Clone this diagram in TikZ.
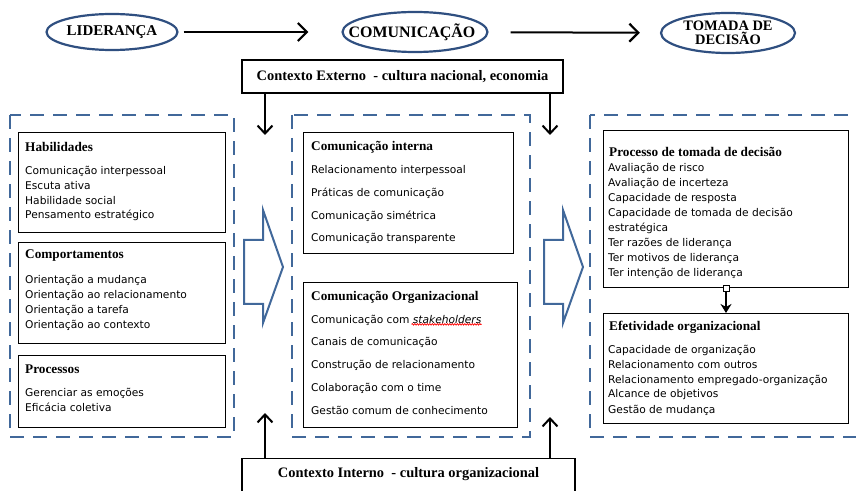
\documentclass[tikz,border=0pt]{standalone}
\usepackage{fontspec}
\setmainfont{Liberation Serif}
\newfontfamily\listfont{DejaVu Sans}
\usetikzlibrary{shapes.geometric, arrows.meta, decorations.pathmorphing}
\definecolor{ovalblue}{HTML}{2F4F80}
\definecolor{dashblue}{HTML}{41689A}
\tikzset{
  oval/.style={ellipse, draw=ovalblue, line width=2.2bp, minimum width=131bp, minimum height=36bp, inner sep=0},
  ovaltext/.style={font=\fontsize{15}{14}\selectfont\bfseries, align=center, inner sep=0},
  flow/.style={line width=1.8bp, -{Straight Barb[length=8bp, width=15bp, line width=2bp]}},
  contextbox/.style={draw=black, line width=1.2bp, inner xsep=6bp, font=\fontsize{14.5}{16}\selectfont\bfseries},
  group/.style={draw=dashblue, line width=2.8bp, dash pattern=on 14bp off 9bp},
  infobox/.style={draw=black, line width=1bp, anchor=north west, inner sep=0},
  heading/.style={anchor=west, inner sep=0, font=\fontsize{13.3}{15}\selectfont\bfseries},
  item/.style={anchor=west, inner sep=0, font=\listfont\fontsize{10.7}{12}\selectfont},
  bigarrow/.style={draw=dashblue, line width=2bp, fill=white, line join=miter}
}
\begin{document}
\begin{tikzpicture}[x=1bp, y=-1bp, line cap=butt]
  \useasboundingbox (0,0) rectangle (856,491);
  % Top row
  \node [oval] (oval-1) at (112,32) {};
  \node [oval, minimum width=145bp, minimum height=40bp] (oval-2) at (415,32) {};
  \node [oval, minimum width=134bp, minimum height=40bp] (oval-3) at (728,33) {};
  \node [ovaltext] (title-1) at (oval-1) {LIDERANÇA};
  \node [ovaltext, font=\fontsize{16}{14}\selectfont\bfseries] (title-2) at ([xshift=-3bp]oval-2.center) {COMUNICAÇÃO};
  \node [ovaltext, font=\fontsize{14.5}{14}\selectfont\bfseries] (title-3) at (oval-3) {TOMADA DE\\DECISÃO};
  \draw [flow, line width=2bp, -{Straight Barb[length=9bp, width=18bp, line width=2.2bp]}, shorten <=5bp, shorten >=33bp] (oval-1) -- (oval-2);
  \draw [flow, line width=2bp, -{Straight Barb[length=9bp, width=18bp, line width=2.2bp]}, shorten <=22bp, shorten >=20bp] (oval-2) -- (oval-3);
  % Context boxes
  \node [contextbox, minimum width=321bp, minimum height=33bp] (ctx-ext) at (402.5,76.5) {Contexto Externo \ - cultura nacional, economia};
  \node [contextbox, anchor=north, minimum width=333bp, text height=14bp, text depth=20bp, inner ysep=5bp] (ctx-int) at (408.5,458) {Contexto Interno \ - cultura organizacional};
  \coordinate (ext-1) at (265,135);
  \coordinate (ext-2) at (550,135);
  \coordinate (int-1) at (265,413);
  \coordinate (int-2) at (550,417);
  \foreach \a in {1, 2} {
    \draw [flow] (ctx-ext.south -| ext-\a) -- (ext-\a);
    \draw [flow] (ctx-int.north -| int-\a) -- (int-\a);
  }
  % Dashed groups
  \draw [group] (10,115) rectangle (234,437);
  \draw [group] (292,115) rectangle (530,437);
  \draw [group] (590,115) rectangle (880,437);
  % Block arrows
  \foreach \dx in {0, 300}
    \draw [bigarrow, xshift=\dx bp] (244,240) -- (263,240) -- (263,210) -- (283,267) -- (263,323) -- (263,304) -- (244,304) -- cycle;
  % First group
  \node [infobox, minimum width=207bp, minimum height=100bp] (box-1-1) at (18,132) {};
  \node [infobox, minimum width=207bp, minimum height=101bp] (box-1-2) at (18,242) {};
  \node [infobox, minimum width=207bp, minimum height=72bp] (box-1-3) at (18,355) {};
  \node [heading] (head-1-1) at (25,147) {Habilidades};
  \node [heading] (head-1-2) at (25,256) {Comportamentos};
  \node [heading] (head-1-3) at (25,369) {Processos};
  \foreach \t [count=\i] in {Comunicação interpessoal, Escuta ativa, Habilidade social, Pensamento estratégico}
    \node [item] (item-1-1-\i) at (25,{171+14.7*(\i-1)}) {\t};
  \foreach \t [count=\i] in {Orientação a mudança, Orientação ao relacionamento, Orientação a tarefa, Orientação ao contexto}
    \node [item] (item-1-2-\i) at (25,{280+15*(\i-1)}) {\t};
  \foreach \t [count=\i] in {Gerenciar as emoções, Eficácia coletiva}
    \node [item] (item-1-3-\i) at (25,{393+14.7*(\i-1)}) {\t};
  % Second group
  \node [infobox, minimum width=210bp, minimum height=121bp] (box-2-1) at (303,132) {};
  \node [infobox, minimum width=214bp, minimum height=145bp] (box-2-2) at (303,282) {};
  \node [heading] (head-2-1) at (311,147) {Comunicação interna};
  \node [heading] (head-2-2) at (311,297) {Comunicação Organizacional};
  \foreach \t [count=\i] in {Relacionamento interpessoal, Práticas de comunicação, Comunicação simétrica, Comunicação transparente}
    \node [item] (item-2-1-\i) at (311,{171+22.6*(\i-1)}) {\t};
  \foreach \t [count=\i] in {Comunicação com \textit{stakeholders}, Canais de comunicação, Construção de relacionamento, Colaboração com o time, Gestão comum de conhecimento}
    \node [item] (item-2-2-\i) at (311,{320+22.7*(\i-1)}) {\t};
  \draw [red, line width=0.8bp, decorate, decoration={snake, amplitude=0.7bp, segment length=2.5bp}] ([xshift=-70bp, yshift=1bp]item-2-2-1.south east) -- ([yshift=1bp]item-2-2-1.south east);
  % Third group
  \node [infobox, minimum width=245bp, minimum height=157bp] (box-3-1) at (603,130) {};
  \node [infobox, minimum width=245bp, minimum height=110bp] (box-3-2) at (603,313) {};
  \node [heading] (head-3-1) at (609,152) {Processo de tomada de decisão};
  \node [heading] (head-3-2) at (609,327) {Efetividade organizacional};
  \foreach \t [count=\i] in {Avaliação de risco, Avaliação de incerteza, Capacidade de resposta, Capacidade de tomada de decisão, estratégica, Ter razões de liderança, Ter motivos de liderança, Ter intenção de liderança}
    \node [item] (item-3-1-\i) at (608,{168+15.1*(\i-1)}) {\t};
  \foreach \t [count=\i] in {Capacidade de organização, Relacionamento com outros, Relacionamento empregado-organização, Alcance de objetivos, Gestão de mudança}
    \node [item] (item-3-2-\i) at (608,{350+15*(\i-1)}) {\t};
  \draw [line width=2bp, -{Stealth[length=9bp, width=11bp]}] (box-3-1.south) -- (box-3-2.north);
  \node [draw, fill=white, line width=0.6bp, minimum size=6bp, inner sep=0] (mark) at (box-3-1.south) {};
\end{tikzpicture}
\end{document}
